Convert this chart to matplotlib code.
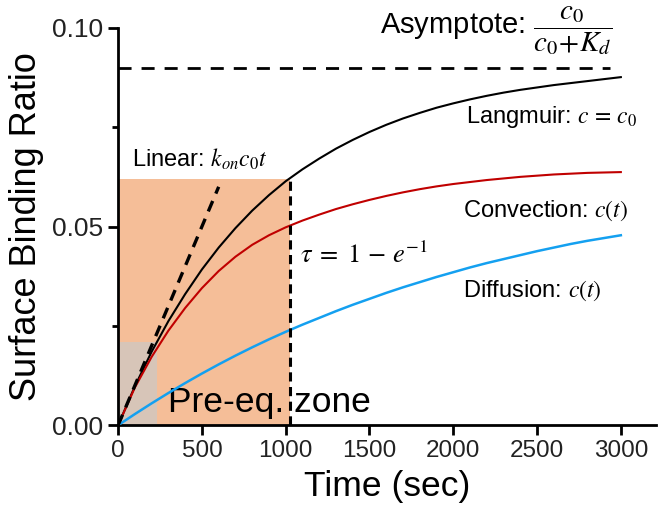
import matplotlib
matplotlib.use('Agg')
import matplotlib.pyplot as plt
from matplotlib.patches import Rectangle

plt.rcParams['font.family'] = ['Liberation Sans', 'DejaVu Sans']
plt.rcParams['mathtext.fontset'] = 'stix'

# Данные
time_s = [0, 100, 200, 300, 400, 500, 600, 700, 800, 900, 1000,
          1100, 1200, 1300, 1400, 1500, 1600, 1700, 1800, 1900, 2000,
          2100, 2200, 2300, 2400, 2500, 2600, 2700, 2800, 2900, 3000]
langmuir = [0, 0.0098, 0.0185, 0.0262, 0.0330, 0.0392, 0.0447, 0.0496, 0.0540, 0.0579, 0.0614,
            0.0644, 0.0671, 0.0696, 0.0718, 0.0738, 0.0756, 0.0772, 0.0786, 0.0799, 0.0810,
            0.0820, 0.0829, 0.0837, 0.0844, 0.0850, 0.0856, 0.0861, 0.0866, 0.0871, 0.0876]
convection = [0, 0.0095, 0.0172, 0.0238, 0.0295, 0.0345, 0.0388, 0.0424, 0.0454, 0.0478, 0.0498,
              0.0515, 0.0530, 0.0544, 0.0556, 0.0567, 0.0577, 0.0586, 0.0594, 0.0601, 0.0607,
              0.0612, 0.0617, 0.0621, 0.0625, 0.0628, 0.0631, 0.0633, 0.0635, 0.0636, 0.0637]
diffusion = [0, 0.0028, 0.0055, 0.0081, 0.0106, 0.0130, 0.0153, 0.0175, 0.0196, 0.0216, 0.0235,
             0.0253, 0.0270, 0.0287, 0.0303, 0.0318, 0.0333, 0.0347, 0.0360, 0.0373, 0.0385,
             0.0397, 0.0408, 0.0418, 0.0428, 0.0438, 0.0447, 0.0456, 0.0464, 0.0471, 0.0478]
linear_t = [0, 600]
linear_y = [0, 0.060]
asymptote = 0.09
asymptote_end = 2935
tau_t = 1024
tau_y = 0.0619
early_t = 230
early_y = 0.021

fig = plt.figure(figsize=(6.6, 5.16), dpi=100)
ax = fig.add_axes([0.179, 0.176, 0.815, 0.770])

# Зоны
ax.add_patch(Rectangle((0, 0), tau_t, tau_y, facecolor='#F5BE98', edgecolor='none', zorder=0))
ax.add_patch(Rectangle((0, 0), early_t, early_y, facecolor='#D7C5B8', edgecolor='none', zorder=0.5))

# Кривые
ax.plot(time_s, langmuir, color='black', lw=1.5, zorder=3)
ax.plot(time_s, convection, color='#C00000', lw=1.5, zorder=3)
ax.plot(time_s, diffusion, color='#14A0F0', lw=1.8, zorder=3)
ax.plot(linear_t, linear_y, color='black', lw=2.4, dashes=(3.4, 2.4), zorder=4)
ax.plot([0, asymptote_end], [asymptote, asymptote], color='black', lw=2.0, dashes=(4.7, 3.6), zorder=3)
ax.plot([tau_t, tau_t], [0, tau_y], color='black', lw=2.2, dashes=(3.0, 1.8), zorder=4)

# Подписи
ax.text(1562, 0.0994, r'Asymptote: $\dfrac{c_0}{c_0\!+\!K_d}$', fontsize=21, va='center', ha='left')
ax.text(2075, 0.0775, r'Langmuir: $c\,=\,c_0$', fontsize=17, va='center', ha='left')
ax.text(2057, 0.0540, r'Convection: $c(t)$', fontsize=17, va='center', ha='left')
ax.text(2057, 0.0338, r'Diffusion: $c(t)$', fontsize=17, va='center', ha='left')
ax.text(83, 0.0669, r'Linear: $k_{on}c_0t$', fontsize=17, va='center', ha='left')
ax.text(1085, 0.0429, r'$\tau\;=\;1\,-\,e^{-1}$', fontsize=19, va='center', ha='left')
ax.text(300, 0.0033, 'Pre-eq. zone', fontsize=25.5, va='baseline', ha='left', zorder=2)

ax.set_xlim(0, 3210)
ax.set_ylim(0, 0.10)
ax.set_xticks([0, 500, 1000, 1500, 2000, 2500, 3000])
ax.set_yticks([0, 0.05, 0.10])
ax.set_yticklabels(['0.00', '0.05', '0.10'])
ax.set_yticks([0.025, 0.075], minor=True)
ax.tick_params(axis='both', which='major', width=2, length=7, colors='black',
               labelcolor='#222222')
ax.tick_params(axis='x', which='major', labelsize=17.5)
ax.tick_params(axis='y', which='major', labelsize=19)
ax.tick_params(axis='y', which='minor', width=2, length=4)
ax.spines['top'].set_visible(False)
ax.spines['right'].set_visible(False)
ax.spines['left'].set_linewidth(2)
ax.spines['bottom'].set_linewidth(2)

ax.set_xlabel('Time (sec)', fontsize=25.5, labelpad=6)
ax.set_ylabel('Surface Binding Ratio', fontsize=26, labelpad=6)

plt.savefig('out.png', dpi=100)
